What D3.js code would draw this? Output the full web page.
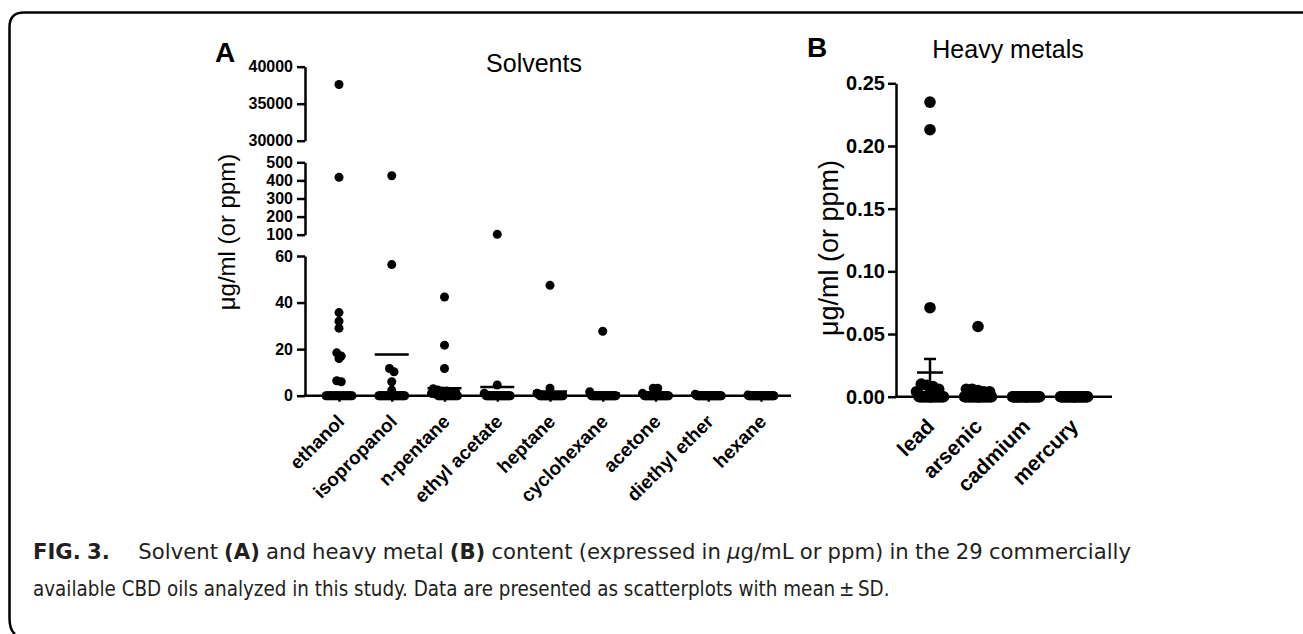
<!DOCTYPE html>
<html><head><meta charset="utf-8">
<script src="https://cdn.jsdelivr.net/npm/d3@7"></script>
<style>html,body{margin:0;padding:0;background:#fff;} svg{display:block;}</style>
</head><body>
<svg id="c" width="1303" height="634"></svg>
<script>
// ---------------- DATA ----------------
const solventCategories = ["ethanol","isopropanol","n-pentane","ethyl acetate","heptane","cyclohexane","acetone","diethyl ether","hexane"];
const ethanol      = [37600,417,35.7,32,29,18.4,17,16,6.4,6,0,0,0,0,0,0,0,0,0,0,0,0,0,0,0,0,0,0,0];
const isopropanol  = [426,56.3,11.7,10.3,6,2.4,0,0,0,0,0,0,0,0,0,0,0,0,0,0,0,0,0,0,0,0,0,0,0];
const nPentane     = [42.4,21.7,11.7,3,2.5,2,2,1.5,1.5,1,1,1,0.8,0.5,0,0,0,0,0,0,0,0,0,0,0,0,0,0,0];
const ethylAcetate = [102,4.6,1,0.5,0,0,0,0,0,0,0,0,0,0,0,0,0,0,0,0,0,0,0,0,0,0,0,0,0];
const heptane      = [47.4,3.2,1,0.8,0.5,0,0,0,0,0,0,0,0,0,0,0,0,0,0,0,0,0,0,0,0,0,0,0,0];
const cyclohexane  = [27.7,1.7,0.5,0,0,0,0,0,0,0,0,0,0,0,0,0,0,0,0,0,0,0,0,0,0,0,0,0,0];
const acetone      = [3.2,3.2,1,0.5,0,0,0,0,0,0,0,0,0,0,0,0,0,0,0,0,0,0,0,0,0,0,0,0,0];
const diethylEther = [0.6,0.4,0,0,0,0,0,0,0,0,0,0,0,0,0,0,0,0,0,0,0,0,0,0,0,0,0,0,0];
const hexane       = [0.3,0,0,0,0,0,0,0,0,0,0,0,0,0,0,0,0,0,0,0,0,0,0,0,0,0,0,0,0];
const solventValues = [ethanol,isopropanol,nPentane,ethylAcetate,heptane,cyclohexane,acetone,diethylEther,hexane];

const solventSegDomains = [[30000,40000],[100,500],[0,60]];
const solventSegTicks   = [[30000,35000,40000],[100,200,300,400,500],[0,20,40,60]];

const metalCategories = ["lead","arsenic","cadmium","mercury"];
const lead    = [0.235,0.213,0.071,0.010,0.009,0.008,0.006,0.004,0.003,0,0,0,0,0,0,0,0,0,0,0,0,0,0,0,0,0,0,0,0];
const arsenic = [0.056,0.006,0.006,0.005,0.004,0.004,0,0,0,0,0,0,0,0,0,0,0,0,0,0,0,0,0,0,0,0,0,0,0];
const cadmium = [0,0,0,0,0,0,0,0,0,0,0,0,0,0,0,0,0,0,0,0,0,0,0,0,0,0,0,0,0];
const mercury = [0,0,0,0,0,0,0,0,0,0,0,0,0,0,0,0,0,0,0,0,0,0,0,0,0,0,0,0,0];
const metalValues = [lead,arsenic,cadmium,mercury];
const metalTicks = [0,0.05,0.10,0.15,0.20,0.25];

const yLabel = "\u03bcg/ml (or ppm)";
const captionLine1 = [
  [["FIG.","b"]],[["3.","b"]],"GAP",[["Solvent"]],[["(A)","b"]],[["and"]],[["heavy"]],[["metal"]],[["(B)","b"]],
  [["content"]],[["(expressed"]],[["in"]],[["\u03bc","i"],["g/mL"]],[["or"]],[["ppm)"]],[["in"]],[["the"]],[["29"]],[["commercially"]]
];
const captionLine2 = "available CBD oils analyzed in this study. Data are presented as scatterplots with mean\u2009\u00b1\u2009SD.";

// ---------------- LAYOUT ----------------
const svg = d3.select("#c");
const FONT = "Arial, 'Liberation Sans', Helvetica, sans-serif";
const SW = 2.5;

svg.append("path")
  .attr("d","M1303,12.5 H24 Q9.5,12.5 9.5,27 V618 Q9.5,630 15,634")
  .attr("fill","none").attr("stroke","#000").attr("stroke-width",2.5);

function spread(pts, r, maxW) {
  pts.sort((a,b)=>a.y-b.y);
  const groups=[]; let cur=null;
  pts.forEach(p=>{
    if(cur && Math.abs(p.y-cur[0].y) < r) cur.push(p);
    else { cur=[p]; groups.push(cur); }
  });
  groups.forEach(gr=>{
    const n=gr.length;
    const step = n>1 ? Math.min(r, maxW/(n-1)) : 0;
    gr.forEach((p,i)=>{ p.dx = (i-(n-1)/2)*step; });
  });
  return pts;
}

// ===== Panel A =====
const axA = 305, axAY = 395.7, xAEnd = 791;
const segRanges = [[140.7,66.7],[234.7,162.3],[395.7,256]];
const segScales = solventSegDomains.map((d,i)=>d3.scaleLinear().domain(d).range(segRanges[i]));
function yA(v){
  for(let i=0;i<segScales.length;i++){
    const d=solventSegDomains[i];
    if(v>=d[0] && v<=d[1]) return segScales[i](v);
  }
  return null;
}
const xA = d3.scalePoint().domain(solventCategories).range([339,761]);

const gA = svg.append("g");
segScales.forEach((s,i)=>{
  const ax = gA.append("g").attr("transform",`translate(${axA},0)`)
    .call(d3.axisLeft(s).tickValues(solventSegTicks[i]).tickFormat(d3.format("d")).tickSize(8).tickSizeOuter(0).tickPadding(4));
  ax.selectAll("path,line").attr("stroke","#000").attr("stroke-width",SW);
  ax.selectAll("text").attr("font-family",FONT).attr("font-size",16).attr("font-weight","bold").attr("fill","#000");
});
const xAxA = gA.append("g").attr("transform",`translate(0,${axAY})`)
  .call(d3.axisBottom(xA).tickSize(6).tickSizeOuter(0));
xAxA.select(".domain").remove();
xAxA.selectAll("line").attr("stroke","#000").attr("stroke-width",SW);
xAxA.selectAll("text").attr("x",0).attr("y",0).attr("dy",0)
  .attr("transform","translate(6,27) rotate(-45)")
  .attr("text-anchor","end")
  .attr("font-family",FONT).attr("font-size",19).attr("font-weight","bold").attr("fill","#000");
gA.append("line").attr("x1",axA-1.25).attr("x2",xAEnd).attr("y1",axAY).attr("y2",axAY)
  .attr("stroke","#000").attr("stroke-width",SW);

const rA = 4.5;
solventValues.forEach((vals,ci)=>{
  const cx = xA(solventCategories[ci]);
  const pts = spread(vals.map(v=>({v, y:yA(v)})).filter(p=>p.y!==null), rA, 26);
  gA.append("g").selectAll("circle").data(pts).join("circle")
    .attr("cx",p=>cx+p.dx).attr("cy",p=>p.y).attr("r",rA).attr("fill","#000");
  const m = d3.mean(vals), my = yA(m);
  if(my!==null){
    gA.append("line").attr("x1",cx-17).attr("x2",cx+17).attr("y1",my).attr("y2",my)
      .attr("stroke","#000").attr("stroke-width",SW);
  }
});

svg.append("text").attr("x",215).attr("y",62).text("A")
  .attr("font-family",FONT).attr("font-size",28).attr("font-weight","bold");
svg.append("text").attr("x",534).attr("y",71.5).attr("text-anchor","middle").text("Solvents")
  .attr("font-family",FONT).attr("font-size",25);
svg.append("text").attr("transform","translate(235,232) rotate(-90)").attr("text-anchor","middle").text(yLabel)
  .attr("font-family",FONT).attr("font-size",24);

// ===== Panel B =====
const axB = 896, xBEnd = 1112;
const yB = d3.scaleLinear().domain([0,0.25]).range([396.7,83.3]);
const xB = d3.scalePoint().domain(metalCategories).range([930,1074]);
const gB = svg.append("g");
const yAxB = gB.append("g").attr("transform",`translate(${axB},0)`)
  .call(d3.axisLeft(yB).tickValues(metalTicks).tickFormat(d3.format(".2f")).tickSize(8).tickSizeOuter(0).tickPadding(3));
yAxB.selectAll("path,line").attr("stroke","#000").attr("stroke-width",SW);
yAxB.selectAll("text").attr("font-family",FONT).attr("font-size",20).attr("font-weight","bold").attr("fill","#000");
const xAxB = gB.append("g").attr("transform",`translate(0,${yB(0)})`)
  .call(d3.axisBottom(xB).tickSize(6).tickSizeOuter(0));
xAxB.select(".domain").remove();
xAxB.selectAll("line").attr("stroke","#000").attr("stroke-width",SW);
xAxB.selectAll("text").attr("x",0).attr("y",0).attr("dy",0)
  .attr("transform","translate(5,31) rotate(-45)")
  .attr("text-anchor","end")
  .attr("font-family",FONT).attr("font-size",21).attr("font-weight","bold").attr("fill","#000");
gB.append("line").attr("x1",axB-1.25).attr("x2",xBEnd).attr("y1",yB(0)).attr("y2",yB(0))
  .attr("stroke","#000").attr("stroke-width",SW);

const rB = 5.8;
metalValues.forEach((vals,ci)=>{
  const cx = xB(metalCategories[ci]);
  const pts = spread(vals.map(v=>({v, y:yB(v)})), rB, 27);
  gB.append("g").selectAll("circle").data(pts).join("circle")
    .attr("cx",p=>cx+p.dx).attr("cy",p=>p.y).attr("r",rB).attr("fill","#000");
  const m = d3.mean(vals);
  const sem = (d3.deviation(vals)||0)/Math.sqrt(vals.length);
  const eg = gB.append("g").attr("stroke","#000").attr("stroke-width",SW);
  eg.append("line").attr("x1",cx-13).attr("x2",cx+13).attr("y1",yB(m)).attr("y2",yB(m));
  if(sem>0){
    eg.append("line").attr("x1",cx).attr("x2",cx).attr("y1",yB(Math.max(0,m-sem))).attr("y2",yB(m+sem));
    eg.append("line").attr("x1",cx-6).attr("x2",cx+6).attr("y1",yB(m+sem)).attr("y2",yB(m+sem));
    eg.append("line").attr("x1",cx-6).attr("x2",cx+6).attr("y1",yB(Math.max(0,m-sem))).attr("y2",yB(Math.max(0,m-sem)));
  }
});

svg.append("text").attr("x",807).attr("y",57).text("B")
  .attr("font-family",FONT).attr("font-size",28).attr("font-weight","bold");
svg.append("text").attr("x",1008).attr("y",58.3).attr("text-anchor","middle").text("Heavy metals")
  .attr("font-family",FONT).attr("font-size",25);
svg.append("text").attr("transform","translate(838,248) rotate(-90)").attr("text-anchor","middle").text(yLabel)
  .attr("font-family",FONT).attr("font-size",27);

// ===== Caption =====
const CAP = "'Liberation Sans Narrow', 'DejaVu Sans Condensed', 'Arial Narrow', sans-serif";
const CAPCOL = "#231f20";
function addRuns(t, runs){
  runs.forEach(([s,st])=>{
    const ts=t.append("tspan").text(s);
    if(st==="b") ts.attr("font-weight","bold");
    if(st==="i") ts.attr("font-style","italic");
  });
}
let capFs = 21;
const probe = svg.append("text").attr("font-family",CAP).attr("font-size",capFs).text(captionLine2);
const w2 = probe.node().getComputedTextLength();
capFs = capFs * 857 / w2;
probe.remove();
svg.append("text").attr("x",33).attr("y",596).attr("font-family",CAP).attr("font-size",capFs)
  .attr("fill",CAPCOL).text(captionLine2);
const words = captionLine1.filter(w=>w!=="GAP");
const widths = words.map(runs=>{
  const t = svg.append("text").attr("font-family",CAP).attr("font-size",capFs);
  addRuns(t, runs);
  const w = t.node().getComputedTextLength(); t.remove(); return w;
});
const total = d3.sum(widths);
const normalGap = capFs*0.3;
const extraGap = capFs*1.1;
const nGaps = words.length-1;
const k = (1098 - extraGap - normalGap*nGaps)/total;
let xpos = 33, wi = 0;
captionLine1.forEach(w=>{
  if(w==="GAP"){ xpos += extraGap; return; }
  const t = svg.append("text").attr("x",xpos).attr("y",559).attr("font-family",CAP).attr("font-size",capFs).attr("fill",CAPCOL)
    .attr("textLength",widths[wi]*k).attr("lengthAdjust","spacingAndGlyphs");
  addRuns(t, w);
  xpos += widths[wi]*k + normalGap; wi++;
});
</script>
</body></html>
